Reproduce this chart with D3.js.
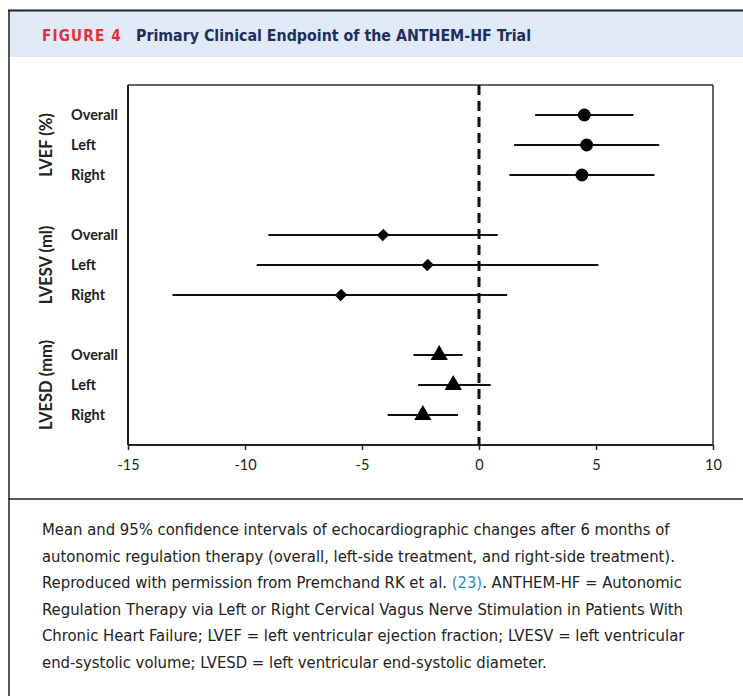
<!DOCTYPE html>
<html><head><meta charset="utf-8">
<script src="https://cdn.jsdelivr.net/npm/d3@7/dist/d3.min.js"></script>
<style>body{margin:0;background:#fff}svg{display:block}</style>
</head><body>
<script>
const groups = ["LVEF (%)", "LVESV (ml)", "LVESD (mm)"];
const rowLabels = ["Overall", "Left", "Right"];
const markerTypes = ["circle", "diamond", "triangle"];
const means = [[4.5, 4.6, 4.4], [-4.1, -2.2, -5.9], [-1.7, -1.1, -2.4]];
const lows  = [[2.4, 1.5, 1.3], [-9.0, -9.5, -13.1], [-2.8, -2.6, -3.9]];
const highs = [[6.6, 7.7, 7.5], [0.8, 5.1, 1.2], [-0.7, 0.5, -0.9]];
const xTicks = [-15, -10, -5, 0, 5, 10];
const captionLines = [
  ["Mean and 95% confidence intervals of echocardiographic changes after 6 months of"],
  ["autonomic regulation therapy (overall, left-side treatment, and right-side treatment)."],
  ["Reproduced with permission from Premchand RK et al. ", {t:"(23)", c:"#2b8cc4"}, ". ANTHEM-HF = Autonomic"],
  ["Regulation Therapy via Left or Right Cervical Vagus Nerve Stimulation in Patients With"],
  ["Chronic Heart Failure; LVEF = left ventricular ejection fraction; LVESV = left ventricular"],
  ["end-systolic volume; LVESD = left ventricular end-systolic diameter."]
];

const W = 743, H = 696;
const svg = d3.select("body").append("svg").attr("width", W).attr("height", H);
const condFont = "'Liberation Sans Narrow','DejaVu Sans Condensed',sans-serif";

// frame + header
svg.append("rect").attr("x", 8).attr("y", 10).attr("width", W - 8).attr("height", 47).attr("fill", "#dfeaf6");
svg.append("line").attr("x1", 8).attr("x2", W).attr("y1", 10.5).attr("y2", 10.5).attr("stroke", "#222").attr("stroke-width", 2);
svg.append("line").attr("x1", 9).attr("x2", 9).attr("y1", 10).attr("y2", H).attr("stroke", "#222").attr("stroke-width", 1.5);
svg.append("line").attr("x1", 8).attr("x2", W).attr("y1", 499).attr("y2", 499).attr("stroke", "#222").attr("stroke-width", 1.5);

svg.append("text").attr("x", 42).attr("y", 41).attr("textLength", 80).attr("lengthAdjust", "spacingAndGlyphs")
  .style("font-family", condFont).style("font-weight", "bold").style("font-size", "16px")
  .attr("fill", "#e2313a").style("letter-spacing", "1.2px").text("FIGURE 4");
svg.append("text").attr("x", 136).attr("y", 41).attr("textLength", 395).attr("lengthAdjust", "spacingAndGlyphs")
  .style("font-family", condFont).style("font-weight", "bold").style("font-size", "16px")
  .attr("fill", "#1d2f5c").text("Primary Clinical Endpoint of the ANTHEM-HF Trial");

// scales
const x = d3.scaleLinear().domain([-15, 10]).range([128, 713]);
const y = d3.scaleLinear().domain([-1, 11]).range([85, 445]);

const rows = [];
groups.forEach((g, gi) => rowLabels.forEach((r, ri) => rows.push({
  g: gi, label: r, idx: gi * 4 + ri, mean: means[gi][ri], lo: lows[gi][ri], hi: highs[gi][ri], m: markerTypes[gi]
})));

const plotFont = "Lato, 'Open Sans', sans-serif";

// box
svg.append("line").attr("x1", x(-15)).attr("x2", x(10)).attr("y1", y(-1)).attr("y2", y(-1)).attr("stroke", "#333").attr("stroke-width", 1.5);
svg.append("line").attr("x1", x(10)).attr("x2", x(10)).attr("y1", y(-1)).attr("y2", y(11)).attr("stroke", "#333").attr("stroke-width", 1.5);
svg.append("line").attr("x1", x(-15)).attr("x2", x(-15)).attr("y1", y(-1)).attr("y2", y(11)).attr("stroke", "#222").attr("stroke-width", 2);

// x axis
const ax = svg.append("g").attr("transform", `translate(0,${y(11)})`)
  .call(d3.axisBottom(x).tickValues(xTicks).tickSize(5).tickPadding(10).tickFormat(d => String(d)));
ax.select(".domain").attr("stroke", "#222").attr("stroke-width", 2).attr("d", `M${x(-15)},0H${x(10)}`);
ax.selectAll(".tick line").attr("stroke", "#222").attr("stroke-width", 1.5);
ax.selectAll(".tick text").style("font-family", plotFont).style("font-size", "14.5px").attr("fill", "#222");

// zero dashed line
svg.append("line").attr("x1", x(0)).attr("x2", x(0)).attr("y1", y(-1)).attr("y2", y(11))
  .attr("stroke", "#111").attr("stroke-width", 3).attr("stroke-dasharray", "10,6");

// CI lines
svg.selectAll(".ci").data(rows).enter().append("line")
  .attr("x1", d => x(d.lo)).attr("x2", d => x(d.hi)).attr("y1", d => y(d.idx)).attr("y2", d => y(d.idx))
  .attr("stroke", "#111").attr("stroke-width", 2);

const sym = {circle: d3.symbol(d3.symbolCircle, 130)(), diamond: d3.symbol(d3.symbolSquare, 70)(), triangle: d3.symbol(d3.symbolTriangle, 130)()};
svg.selectAll(".pt").data(rows).enter().append("path")
  .attr("d", d => sym[d.m])
  .attr("transform", d => `translate(${x(d.mean)},${y(d.idx)})` + (d.m === "diamond" ? " rotate(45) scale(1,1.1)" : ""))
  .attr("fill", "#000");

// row labels
svg.selectAll(".rl").data(rows).enter().append("text")
  .attr("x", 71).attr("y", d => y(d.idx)).attr("dy", "0.35em")
  .style("font-family", plotFont).style("font-weight", "bold").style("font-size", "14.5px").attr("fill", "#222")
  .text(d => d.label);

// group labels
svg.selectAll(".gl").data(groups).enter().append("text")
  .attr("transform", (d, i) => `translate(52,${y(i * 4 + 1)}) rotate(-90)`)
  .attr("text-anchor", "middle")
  .style("font-family", plotFont).style("font-weight", "bold").style("font-size", "16.5px").attr("fill", "#222")
  .text(d => d);

// caption
const cap = svg.append("g").style("font-family", condFont).style("font-size", "16.5px").attr("fill", "#222");
captionLines.forEach((parts, i) => {
  const t = cap.append("text").attr("x", 42).attr("y", 535 + i * 26.5);
  parts.forEach(p => {
    if (typeof p === "string") t.append("tspan").text(p);
    else t.append("tspan").attr("fill", p.c).text(p.t);
  });
});
</script>
</body></html>
